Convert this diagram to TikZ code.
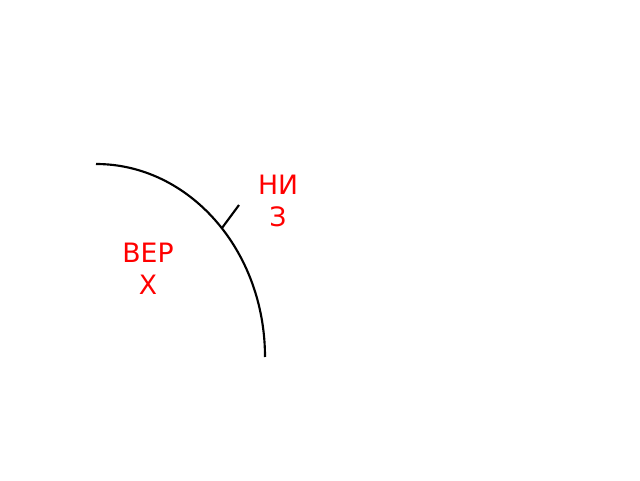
\documentclass[tikz,border=0pt]{standalone}
\usepackage{fontspec}
\setmainfont{DejaVu Sans}
\begin{document}
\begin{tikzpicture}[x=0.75pt,y=0.75pt,
  curve/.style={line width=1.6pt,black},
  lbl/.style={text=red,font=\fontsize{20}{24}\selectfont,align=center,inner sep=0pt}]
\useasboundingbox (0,0) rectangle (640,480);
\coordinate (c) at (96,123);
\coordinate (s) at (96,316);
\draw[curve] (s) arc[start angle=90,end angle=0,x radius=169,y radius=193];
\coordinate (t1) at (222,252);
\coordinate (t2) at (239,275);
\draw[curve] (t1) -- (t2);
\node[lbl] (niz) at (278,279.5) {НИ\\З};
\node[lbl] (verh) at (148,211) {ВЕР\\Х};
\end{tikzpicture}
\end{document}
